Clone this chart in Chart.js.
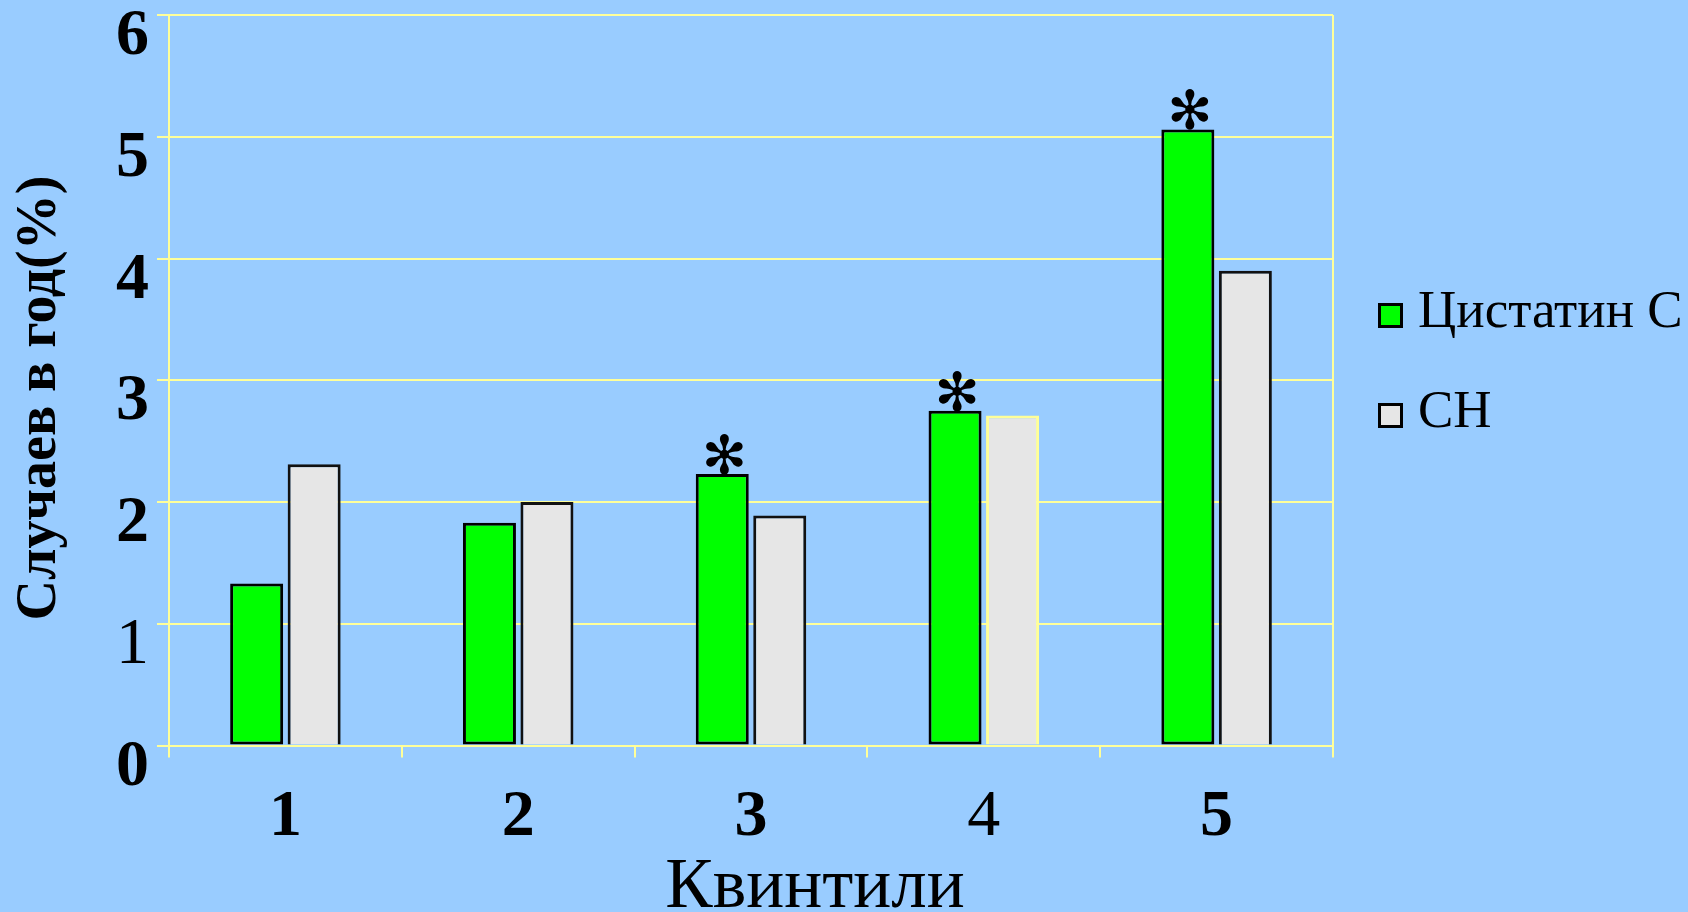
<!DOCTYPE html>
<html><head><meta charset="utf-8">
<script src="https://cdn.jsdelivr.net/npm/chart.js@4/dist/chart.umd.min.js"></script>
<style>html,body{margin:0;padding:0;background:#99CCFF;overflow:hidden}canvas{display:block}</style>
</head><body>
<canvas id="c" width="1688" height="912"></canvas>
<script>
// ---- data ----
const categories = ['1', '2', '3', '4', '5'];
const cystatinC = [1.33, 1.83, 2.23, 2.75, 5.06];
const cn = [2.31, 2.00, 1.89, 2.71, 3.90];
const significance = ['', '', '✻', '✻', '✻'];
const seriesNames = ['Цистатин С', 'СН'];
const yTickValues = [0, 1, 2, 3, 4, 5, 6];
const xTitle = 'Квинтили';
const yTitle = 'Случаев в год(%)';

// ---- style ----
const SERIF = "'Liberation Serif', 'Times New Roman', serif";
const GRID = '#FFFF99';
const BG = '#99CCFF';

const bgPlugin = {
  id: 'bg',
  beforeDraw(chart) {
    const c = chart.ctx;
    c.save(); c.fillStyle = BG; c.fillRect(0, 0, chart.width, chart.height); c.restore();
  }
};

const framePlugin = {
  id: 'frame',
  beforeDatasetsDraw(chart) {
    const c = chart.ctx, a = chart.chartArea;
    c.save(); c.strokeStyle = GRID; c.lineWidth = 2;
    c.beginPath(); c.moveTo(a.right, a.top); c.lineTo(a.right, a.bottom); c.stroke();
    c.restore();
  }
};

const starPlugin = {
  id: 'stars',
  afterDatasetsDraw(chart) {
    const c = chart.ctx, meta = chart.getDatasetMeta(0);
    c.save();
    c.font = `normal 54px 'DejaVu Sans', sans-serif`; c.fillStyle = '#000';
    c.textAlign = 'left'; c.textBaseline = 'alphabetic';
    significance.forEach((s, i) => {
      if (!s) return;
      const bar = meta.data[i];
      const m = c.measureText(s);
      const x = bar.x + 2 - (m.actualBoundingBoxRight - m.actualBoundingBoxLeft) / 2;
      const bottom = bar.y + 1;
      c.fillText(s, x, bottom - m.actualBoundingBoxDescent);
    });
    c.restore();
  }
};

const textPlugin = {
  id: 'texts',
  afterDraw(chart) {
    const c = chart.ctx;
    const lx = 1378, ly = 303, step = 100, box = 25;
    c.save();
    chart.data.datasets.forEach((ds, i) => {
      const top = ly + i * step;
      c.fillStyle = ds.backgroundColor;
      c.fillRect(lx, top, box, box);
      c.strokeStyle = '#000'; c.lineWidth = 3;
      c.strokeRect(lx + 1.5, top + 1.5, box - 3, box - 3);
      c.font = `normal 53px ${SERIF}`; c.fillStyle = '#000';
      c.textAlign = 'left'; c.textBaseline = 'alphabetic';
      c.fillText(ds.label, 1418, top + 24);
    });
    // x axis title
    c.font = `normal 71px ${SERIF}`; c.textAlign = 'center'; c.fillStyle = '#000';
    c.fillText(xTitle, 815, 907);
    // y axis title
    c.translate(55, 398);
    c.rotate(-Math.PI / 2);
    c.font = `bold 56px ${SERIF}`; c.textAlign = 'center'; c.textBaseline = 'alphabetic';
    c.fillText(yTitle, 0, 0);
    c.restore();
  }
};

new Chart(document.getElementById('c'), {
  type: 'bar',
  data: {
    labels: categories,
    datasets: [
      {
        label: seriesNames[0], data: cystatinC,
        backgroundColor: '#00FF00', borderColor: '#000', borderWidth: 3, borderSkipped: false,
        categoryPercentage: 0.494, barPercentage: 0.922
      },
      {
        label: seriesNames[1], data: cn,
        backgroundColor: '#E6E6E6', borderColor: ['#111', '#111', '#111', GRID, '#111'],
        borderWidth: 3, borderSkipped: 'start',
        categoryPercentage: 0.494, barPercentage: 0.922
      }
    ]
  },
  options: {
    responsive: false,
    animation: false,
    layout: { padding: { top: 15, right: 355, left: 0, bottom: 0 } },
    plugins: { legend: { display: false }, tooltip: { enabled: false } },
    scales: {
      x: {
        offset: true,
        grid: { display: true, drawOnChartArea: false, drawTicks: true, tickLength: 12, color: GRID, lineWidth: 2, offset: true },
        border: { display: true, color: GRID, width: 2 },
        ticks: {
          color: '#000', padding: 21, maxRotation: 0, autoSkip: false,
          font: (ctx) => ({ family: SERIF, size: 66, weight: (ctx.tick && ctx.tick.label === '4') ? 'normal' : 'bold' })
        },
        afterFit: (s) => { s.height = 166.5; s.paddingLeft = 0; s.paddingRight = 0; }
      },
      y: {
        min: 0, max: 6,
        afterBuildTicks: (s) => { s.ticks = yTickValues.map(v => ({ value: v })); },
        grid: { color: GRID, lineWidth: 2, drawTicks: true, tickLength: 12 },
        border: { display: true, color: GRID, width: 2 },
        ticks: {
          stepSize: 1, color: '#000', padding: 8, labelOffset: 22,
          font: (ctx) => ({ family: SERIF, size: 66, weight: (ctx.tick && ctx.tick.value === 1) ? 'normal' : 'bold' })
        },
        title: { display: false },
        afterFit: (s) => { s.width = 169; s.paddingTop = 0; s.paddingBottom = 0; }
      }
    }
  },
  plugins: [bgPlugin, framePlugin, starPlugin, textPlugin]
});
</script>
</body></html>
